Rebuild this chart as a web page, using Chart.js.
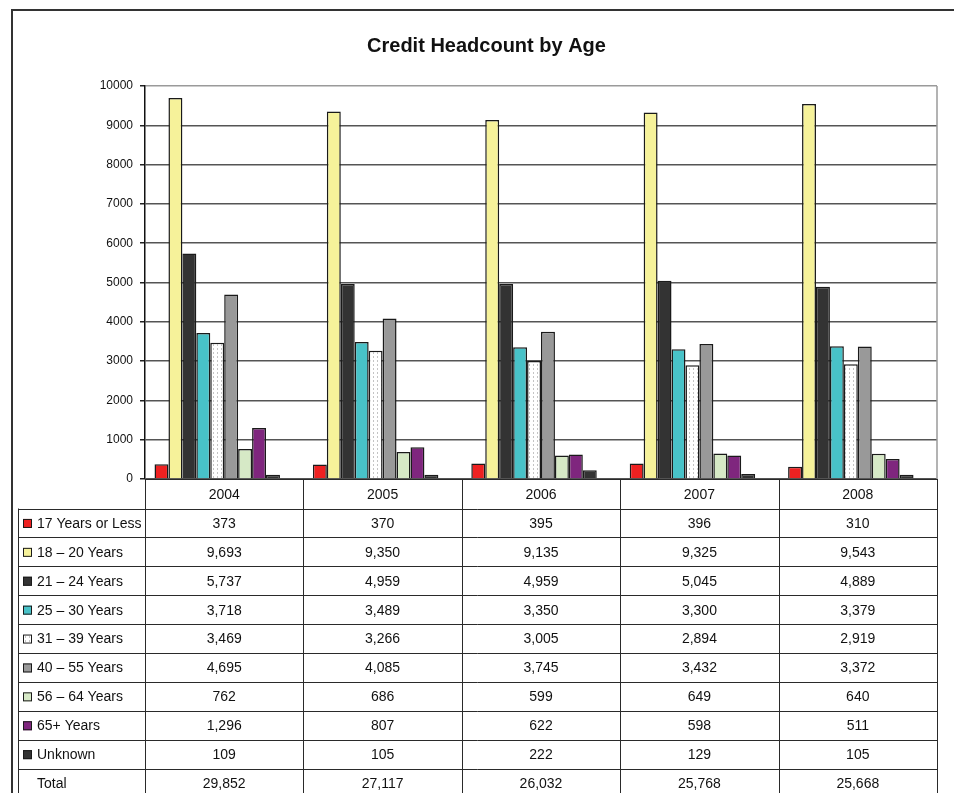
<!DOCTYPE html>
<html>
<head>
<meta charset="utf-8">
<script src="https://cdn.jsdelivr.net/npm/chart.js@4"></script>
<style>
  html, body { margin: 0; padding: 0; background: #fff; }
  #wrap { width: 954px; height: 793px; position: relative; }
</style>
</head>
<body>
<div id="wrap"><canvas id="headcountChart" width="954" height="793"></canvas></div>
<script>
var years = ['2004', '2005', '2006', '2007', '2008'];
var seriesNames = ['17 Years or Less', '18 \u2013 20 Years', '21 \u2013 24 Years', '25 \u2013 30 Years',
    '31 \u2013 39 Years', '40 \u2013 55 Years', '56 \u2013 64 Years', '65+ Years', 'Unknown'];
var age17 = [373, 370, 395, 396, 310];
var age18to20 = [9693, 9350, 9135, 9325, 9543];
var age21to24 = [5737, 4959, 4959, 5045, 4889];
var age25to30 = [3718, 3489, 3350, 3300, 3379];
var age31to39 = [3469, 3266, 3005, 2894, 2919];
var age40to55 = [4695, 4085, 3745, 3432, 3372];
var age56to64 = [762, 686, 599, 649, 640];
var age65plus = [1296, 807, 622, 598, 511];
var unknown = [109, 105, 222, 129, 105];
var totals = [29852, 27117, 26032, 25768, 25668];
var yTicks = [0, 1000, 2000, 3000, 4000, 5000, 6000, 7000, 8000, 9000, 10000];

var FONT = "'Liberation Sans Narrow', 'Liberation Sans', Arial, sans-serif";

// dotted fill used for the 31-39 series
function makeDots() {
    var c = document.createElement('canvas');
    c.width = 4; c.height = 4;
    var g = c.getContext('2d');
    g.fillStyle = '#ffffff';
    g.fillRect(0, 0, 4, 4);
    g.fillStyle = '#c4c4c4';
    g.fillRect(1, 0, 1, 2);
    return g.createPattern(c, 'repeat');
}
var dots = makeDots();

var seriesData = [age17, age18to20, age21to24, age25to30, age31to39, age40to55, age56to64, age65plus, unknown];
var fills = ['#ee2121', '#f6f29a', '#333333', '#48c2c8', dots, '#999999', '#d6e9c6', '#7f267e', '#333333'];

var datasets = seriesData.map(function(d, i) {
    return {
        label: seriesNames[i],
        data: d,
        backgroundColor: fills[i],
        borderColor: '#1a1a1a',
        borderWidth: 1.5
    };
});
// Total series sits in the group with no fill, like the original sheet
datasets.push({ label: 'Total', data: totals, backgroundColor: 'rgba(0,0,0,0)', borderWidth: 0 });

var dataTable = {
    id: 'dataTable',
    afterDraw: function(chart) {
        var ctx = chart.ctx;
        var area = chart.chartArea;
        var x = chart.scales.x;
        var colW = (area.right - area.left) / years.length;
        var headTop = area.bottom;
        var rowsTop = 508.5;
        var rowH = 28.9;
        var tableLeft = 18.5;
        var bottom = 800;

        ctx.save();
        // outer frame
        ctx.strokeStyle = '#333';
        ctx.lineWidth = 2;
        ctx.beginPath();
        ctx.moveTo(12, 800);
        ctx.lineTo(12, 10);
        ctx.lineTo(960, 10);
        ctx.stroke();

        // right border of plot area
        ctx.strokeStyle = '#9a9a9a';
        ctx.lineWidth = 1.5;
        ctx.beginPath();
        ctx.moveTo(area.right, area.top);
        ctx.lineTo(area.right, area.bottom);
        ctx.stroke();

        // table grid
        ctx.strokeStyle = '#2a2a2a';
        ctx.lineWidth = 1;
        ctx.beginPath();
        for (var c = 0; c <= years.length; c++) {
            var cx = Math.round(area.left + c * colW) + 0.5;
            ctx.moveTo(cx, headTop);
            ctx.lineTo(cx, bottom);
        }
        ctx.moveTo(tableLeft, rowsTop);
        ctx.lineTo(tableLeft, bottom);
        ctx.moveTo(area.left, headTop + 0.5);
        ctx.lineTo(area.right, headTop + 0.5);
        for (var r = 0; r <= 10; r++) {
            var ry = Math.round(rowsTop + r * rowH) + 0.5;
            ctx.moveTo(tableLeft, ry);
            ctx.lineTo(area.right, ry);
        }
        ctx.stroke();

        ctx.fillStyle = '#111';
        ctx.font = '14px ' + FONT;
        ctx.textAlign = 'center';
        ctx.textBaseline = 'middle';
        years.forEach(function(yr, i) {
            ctx.fillText(yr, x.getPixelForValue(i), (headTop + rowsTop) / 2 + 1);
        });

        var rows = seriesData.concat([totals]);
        rows.forEach(function(vals, r) {
            var cy = rowsTop + r * rowH + rowH / 2 + 1;
            vals.forEach(function(v, i) {
                ctx.textAlign = 'center';
                ctx.fillText(v.toLocaleString('en-US'), x.getPixelForValue(i), cy);
            });
            ctx.textAlign = 'left';
            var name = r < seriesNames.length ? seriesNames[r] : 'Total';
            ctx.fillText(name, 37, cy);
            if (r < seriesNames.length) {
                ctx.fillStyle = fills[r];
                ctx.fillRect(23, cy - 5, 9, 9);
                ctx.strokeStyle = '#1a1a1a';
                ctx.strokeRect(23.5, cy - 4.5, 8, 8);
                ctx.fillStyle = '#111';
            }
        });
        ctx.restore();
    }
};

var ctxHeadcount = document.getElementById('headcountChart').getContext('2d');
var headcountChart = new Chart(ctxHeadcount, {
    type: 'bar',
    data: {
        labels: years,
        datasets: datasets
    },
    options: {
        responsive: false,
        animation: false,
        events: [],
        layout: {
            padding: { left: 36, right: 17, top: 0, bottom: 314 }
        },
        datasets: {
            bar: { categoryPercentage: 0.88, barPercentage: 1 }
        },
        scales: {
            x: {
                display: false
            },
            y: {
                min: 0,
                max: 10000,
                afterBuildTicks: function(scale) {
                    scale.ticks = yTicks.map(function(v) { return { value: v }; });
                },
                afterFit: function(scale) { scale.width = 109; },
                border: { color: '#111', width: 1.5 },
                grid: {
                    color: function(c) { return c.tick && c.tick.value === 10000 ? '#9a9a9a' : '#555'; },
                    lineWidth: 1.5,
                    tickLength: 5,
                    tickColor: '#222'
                },
                ticks: {
                    padding: 7,
                    color: '#111',
                    font: { family: FONT, size: 12 },
                    callback: function(value) { return String(value); }
                }
            }
        },
        plugins: {
            legend: { display: false },
            tooltip: { enabled: false },
            title: {
                display: true,
                text: 'Credit Headcount by Age',
                color: '#111',
                font: { family: "'Liberation Sans', Arial, sans-serif", size: 20, weight: 'bold' },
                padding: { top: 34, bottom: 28 }
            }
        }
    },
    plugins: [dataTable]
});
</script>
</body>
</html>
